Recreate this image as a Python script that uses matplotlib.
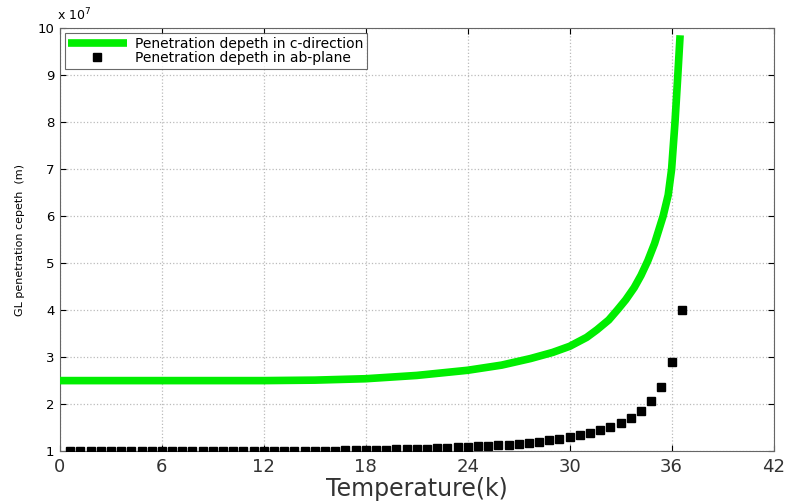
import matplotlib
matplotlib.use("Agg")
import matplotlib.pyplot as plt

# Green curve: penetration depth in c-direction (units of 1e7)
c_temp = [0, 3, 6, 9, 12, 15, 18, 21, 24, 26, 27.7, 29, 30, 31, 31.6, 32.3, 32.8, 33.3, 33.8, 34.2, 34.6, 35.0, 35.5, 35.8, 36.0, 36.2, 36.35, 36.5]
c_depth = [2.50, 2.50, 2.50, 2.50, 2.50, 2.51, 2.54, 2.61, 2.72, 2.83, 2.97, 3.10, 3.23, 3.42, 3.58, 3.79, 4.00, 4.22, 4.48, 4.74, 5.05, 5.42, 6.00, 6.45, 7.00, 8.00, 8.90, 9.85]

# Black squares: penetration depth in ab-plane (units of 1e7)
ab_temp = [round(0.6 * k, 1) for k in range(1, 62)]
ab_depth = [1.0] * 19 + [1.002, 1.003, 1.004, 1.005, 1.006,
            1.008, 1.01, 1.012, 1.015, 1.018, 1.02, 1.025, 1.03, 1.035, 1.04,
            1.045, 1.05, 1.06, 1.07, 1.08, 1.09, 1.10, 1.11, 1.12, 1.14,
            1.16, 1.18, 1.20, 1.23, 1.26, 1.30, 1.34, 1.39, 1.45, 1.52,
            1.60, 1.71, 1.86, 2.07, 2.36, 2.90, 4.00]

x_ticks = [0, 6, 12, 18, 24, 30, 36, 42]
y_ticks = [1, 2, 3, 4, 5, 6, 7, 8, 9, 10]

fig = plt.figure(figsize=(7.85, 5.04), dpi=100)
ax = fig.add_axes([0.0764, 0.105, 0.909, 0.839])

ax.plot(c_temp, c_depth, color="#00ee00", linewidth=5.5, solid_capstyle="butt",
        solid_joinstyle="round",
        label="Penetration depeth in c-direction", zorder=3)
ax.plot(ab_temp, ab_depth, linestyle="none", marker="s", markersize=6,
        color="black", label="Penetration depeth in ab-plane", zorder=4)

ax.set_xlim(0, 42)
ax.set_ylim(1, 10)
ax.set_xticks(x_ticks)
ax.set_yticks(y_ticks)
ax.tick_params(axis="x", labelsize=13, labelcolor="#333333", direction="in",
               top=True, length=4, pad=5)
ax.tick_params(axis="y", labelsize=9.5, direction="in", right=True, length=4, pad=4)
ax.grid(True, linestyle=":", color="#bbbbbb", linewidth=0.9)
for s in ax.spines.values():
    s.set_color("#666666")

ax.set_xlabel("Temperature(k)", fontsize=17, color="#333333", labelpad=1)
ax.set_ylabel("GL penetration cepeth  (m)", fontsize=8, labelpad=9)
ax.text(-0.004, 1.012, r"x 10$^7$", transform=ax.transAxes, fontsize=9,
        ha="left", va="bottom")

leg = ax.legend(loc="upper left", fontsize=10, frameon=True, fancybox=False,
                edgecolor="#444444", borderpad=0.25, handlelength=4.2,
                handletextpad=0.6, labelspacing=0.05, borderaxespad=0.35,
                markerscale=1.0)
leg.get_frame().set_linewidth(0.8)

fig.savefig("out.png", dpi=100)
